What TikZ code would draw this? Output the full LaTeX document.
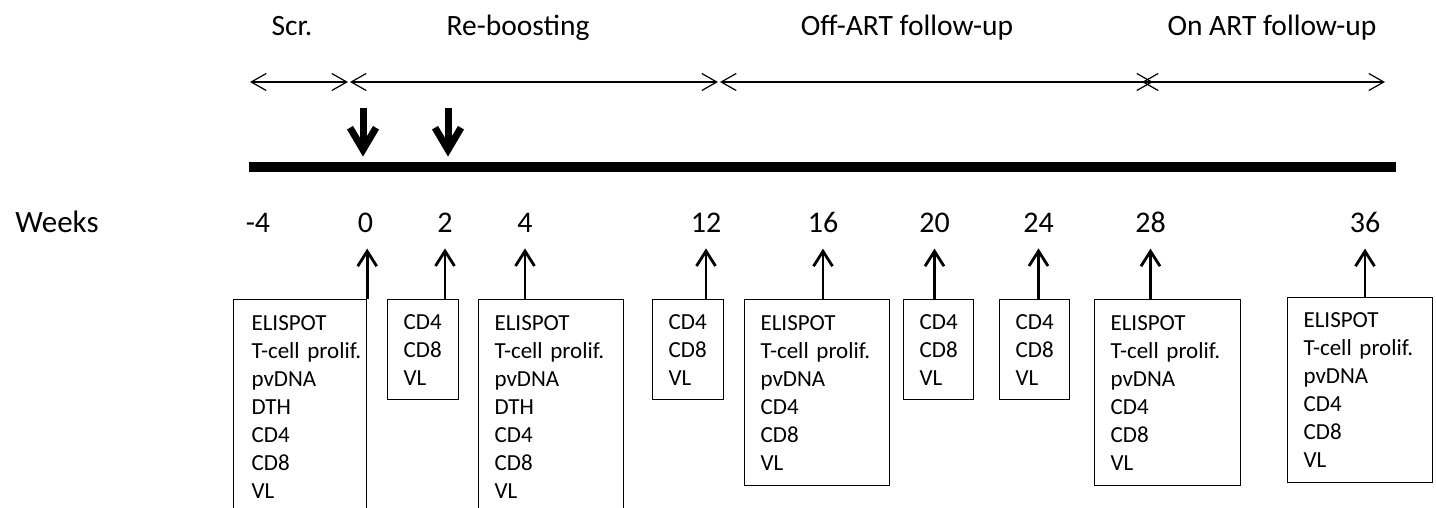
\documentclass[tikz,border=0pt]{standalone}
\usepackage{fontspec}
\setmainfont{Carlito}
\usetikzlibrary{arrows.meta}
\hyphenpenalty=10000
\exhyphenpenalty=10000

\begin{document}
\begin{tikzpicture}[
    x=0.5pt, y=-0.5pt,
    % Define the looks locally
    periodLabel/.style={anchor=base, inner sep=0pt, font=\fontsize{14.75}{17}\selectfont},
    weekLabel/.style={anchor=base, inner sep=0pt, font=\fontsize{15}{18}\selectfont},
    period/.style={line width=0.6pt, >={Straight Barb[length=7.5pt, width=8.5pt]}, <->},
    doseArrow/.style={line width=3.5pt, -{Straight Barb[length=11pt, width=13pt]}, shorten >=2.5pt},
    visitArrow/.style={line width=1.4pt, -{Straight Barb[length=7.5pt, width=9.5pt]}, shorten >=7.5pt},
    assay/.style={draw, line width=0.6pt, anchor=north west, inner xsep=8pt, inner ysep=0pt,
        align=left, font=\fontsize{11.5}{14}\selectfont},
    smallBox/.style={assay, text width=19.5pt, minimum height=50pt},
    wideBox/.style={assay, text width=56.5pt}
]
    \useasboundingbox (0,0) rectangle (1436,508);

    % --- PERIOD LABELS ---
    \node[periodLabel] (labelScr) at (292,36) {Scr.};
    \node[periodLabel] (labelBoost) at (518,36) {Re-boosting};
    \node[periodLabel] (labelOff) at (907,36) {Off-ART follow-up};
    \node[periodLabel] (labelOn) at (1272,36) {On ART follow-up};

    % --- PERIOD ARROWS ---
    \coordinate (scrL) at (250,82);   \coordinate (scrR) at (348,82);
    \coordinate (boostL) at (350,82); \coordinate (boostR) at (718,82);
    \coordinate (offL) at (720,82);   \coordinate (offR) at (1153,82);
    \coordinate (onL) at (1142,82);   \coordinate (onR) at (1385,82);
    \draw[period] (scrL) -- (scrR);
    \draw[period] (boostL) -- (boostR);
    \draw[period] (offL) -- (offR);
    \draw[period] (onL) -- (onR);

    % --- TIME BAR AND BOOST DOSES ---
    \node[fill=black, inner sep=0pt, minimum width=573.5pt, minimum height=5pt] (bar) at (822.5,167) {};
    \coordinate (dose1) at (363,108);
    \coordinate (dose2) at (448,108);
    \draw[doseArrow] (dose1) -- (dose1 |- bar.north);
    \draw[doseArrow] (dose2) -- (dose2 |- bar.north);

    % --- WEEKS ---
    \node[weekLabel, anchor=base west, font=\fontsize{15.5}{18}\selectfont] (weeks) at (15,233) {Weeks};
    \node[weekLabel] (wm4) at (258,233) {-4};
    \node[weekLabel] (w0) at (365.5,233) {0};
    \node[weekLabel] (w2) at (445,233) {2};
    \node[weekLabel] (w4) at (525,233) {4};
    \node[weekLabel] (w12) at (706,233) {12};
    \node[weekLabel] (w16) at (823,233) {16};
    \node[weekLabel] (w20) at (934.5,233) {20};
    \node[weekLabel] (w24) at (1038.5,233) {24};
    \node[weekLabel] (w28) at (1150.5,233) {28};
    \node[weekLabel] (w36) at (1365,233) {36};

    % --- ASSAY BOXES ---
    \node[wideBox, inner xsep=9pt, text width=48.5pt, minimum height=107.5pt] (box0) at (233,299)
        {ELISPOT\\T-cell~prolif.\\pvDNA\\DTH\\CD4\\CD8\\VL};
    \node[smallBox] (box2) at (387,299) {CD4\\CD8\\VL};
    \node[wideBox, minimum height=107.5pt] (box4) at (478,299)
        {ELISPOT\\T-cell prolif.\\pvDNA\\DTH\\CD4\\CD8\\VL};
    \node[smallBox] (box12) at (652,299) {CD4\\CD8\\VL};
    \node[wideBox, minimum height=93pt] (box16) at (744,299)
        {ELISPOT\\T-cell prolif.\\pvDNA\\CD4\\CD8\\VL};
    \node[smallBox, text width=19pt] (box20) at (903,299) {CD4\\CD8\\VL};
    \node[smallBox, text width=19pt] (box24) at (999,299) {CD4\\CD8\\VL};
    \node[wideBox, text width=57pt, minimum height=93pt] (box28) at (1094,299)
        {ELISPOT\\T-cell prolif.\\pvDNA\\CD4\\CD8\\VL};
    \node[wideBox, minimum height=92.5pt] (box36) at (1287,297)
        {ELISPOT\\T-cell prolif.\\pvDNA\\CD4\\CD8\\VL};

    % --- VISIT ARROWS ---
    \draw[visitArrow] (box0.north east) -- (box0.north east |- w0.south);
    \draw[visitArrow] (w2 |- box2.north) -- (w2.south);
    \draw[visitArrow] (w4 |- box4.north) -- (w4.south);
    \draw[visitArrow] (w12 |- box12.north) -- (w12.south);
    \draw[visitArrow] (w16 |- box16.north) -- (w16.south);
    \draw[visitArrow] (w20 |- box20.north) -- (w20.south);
    \draw[visitArrow] (w24 |- box24.north) -- (w24.south);
    \draw[visitArrow] (w28 |- box28.north) -- (w28.south);
    \draw[visitArrow] (w36 |- box36.north) -- (w36.south);

\end{tikzpicture}
\end{document}
